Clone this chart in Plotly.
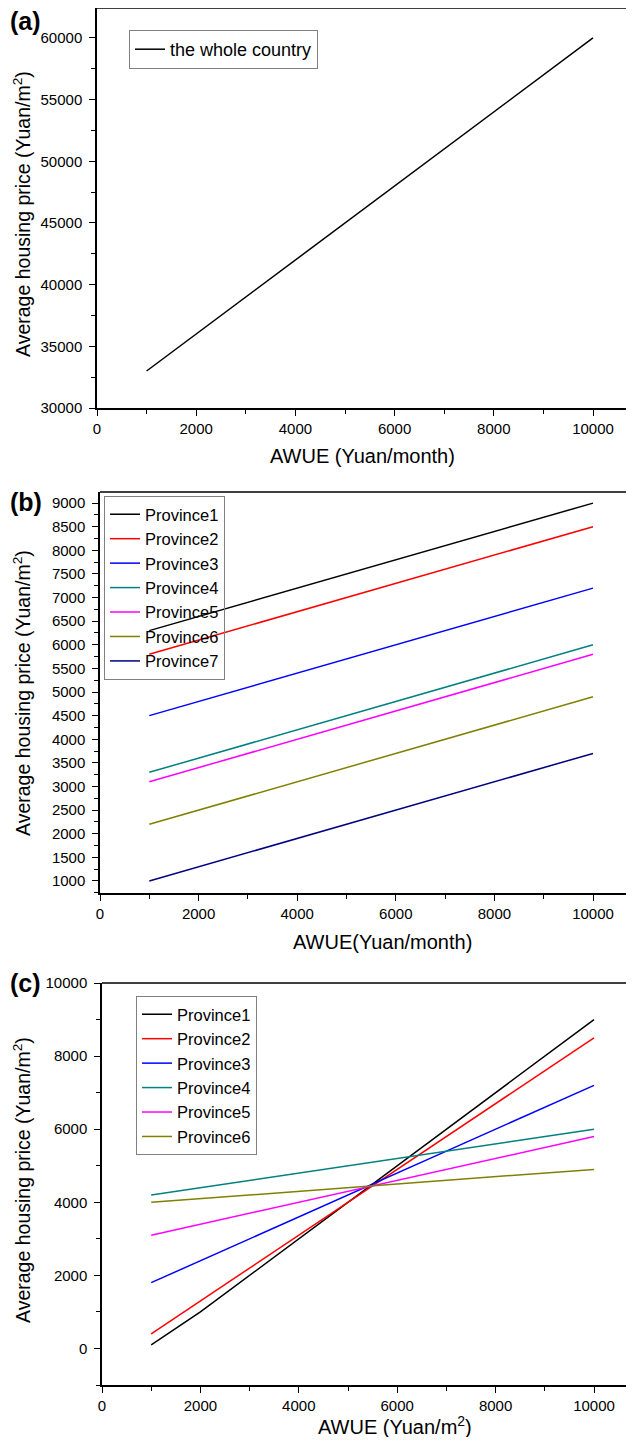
import plotly.graph_objects as go

# ---------------- data ----------------
# (a) whole country
a_x = [1000, 10000]
a_y = [33000, 60000]
a_name = "the whole country"

# (b) provinces (AWUE, Yuan/month)
b_names = ["Province1", "Province2", "Province3", "Province4", "Province5", "Province6", "Province7"]
b_x = [1000, 10000]
b_y = [
    [6300, 9000],
    [5800, 8500],
    [4500, 7200],
    [3300, 6000],
    [3100, 5800],
    [2200, 4900],
    [1000, 3700],
]

# (c) provinces
c_names = ["Province1", "Province2", "Province3", "Province4", "Province5", "Province6"]
c_x = [
    [1000, 2000, 10000],
    [1000, 10000],
    [1000, 10000],
    [1000, 10000],
    [1000, 10000],
    [1000, 10000],
]
c_y = [
    [100, 1000, 9000],
    [400, 8500],
    [1800, 7200],
    [4200, 6000],
    [3100, 5800],
    [4000, 4900],
]

colors = ["#000000", "#ff0000", "#0000ff", "#008080", "#ff00ff", "#808000", "#000080"]

# ---------------- layout helpers ----------------
OFF = 8  # default body margin of the html page
W, H = 634 - OFF, 1445 - 2 * OFF
FONT = "Liberation Sans, Arial, sans-serif"
X_END_PX = 634  # right end of drawn x axis (page px)


def py(px):
    return 1 - (px - OFF) / H


def pxx(px):
    return (px - OFF) / W


fig = go.Figure()

fig.add_trace(go.Scatter(x=a_x, y=a_y, mode="lines", name=a_name,
                         line=dict(color="#000000", width=1.5),
                         xaxis="x", yaxis="y", legend="legend"))
for n, yy, c in zip(b_names, b_y, colors):
    fig.add_trace(go.Scatter(x=b_x, y=yy, mode="lines", name=n,
                             line=dict(color=c, width=1.5),
                             xaxis="x2", yaxis="y2", legend="legend2"))
for n, xx, yy, c in zip(c_names, c_x, c_y, colors):
    fig.add_trace(go.Scatter(x=xx, y=yy, mode="lines", name=n,
                             line=dict(color=c, width=1.5),
                             xaxis="x3", yaxis="y3", legend="legend3"))

common_ax = dict(showline=True, linecolor="black", linewidth=1.5, showgrid=False,
                 zeroline=False, ticks="outside", ticklen=6, tickwidth=1.2,
                 tickcolor="black", tickformat="d", automargin=False,
                 tickfont=dict(family=FONT, size=15, color="black"))

panels = [
    # (x0px, x10000px, top px, bottom px, yrange, dtick, minor)
    (97, 593, 8, 408, [30000, 62430], 5000, 2500),
    (100, 593, 492, 893, [745, 9235], 500, 250),
    (102, 594, 983, 1385, [-1000, 10000], 2000, 1000),
]

shapes = []
for i, (x0, x1, top, bot, yr, dt, mdt) in enumerate(panels, start=1):
    xs = "" if i == 1 else str(i)
    xmax = 10000 * (X_END_PX - x0) / (x1 - x0)
    fig.layout["xaxis" + xs] = dict(
        common_ax, domain=[pxx(x0), pxx(X_END_PX)], range=[0, xmax],
        dtick=2000, tick0=0, mirror=False, anchor="y" + xs,
        minor=dict(ticks="outside", ticklen=4, dtick=1000, tick0=0, tickcolor="black"),
    )
    fig.layout["yaxis" + xs] = dict(
        common_ax, domain=[py(bot), py(top)], range=yr, dtick=dt, tick0=0,
        anchor="x" + xs, ticklabelstandoff=4, mirror=False,
        minor=dict(ticks="outside", ticklen=4, dtick=mdt, tick0=0, tickcolor="black"),
    )
    # top frame line (Origin-style box, right side lies outside the picture)
    shapes.append(dict(type="line", xref="x" + xs + " domain", yref="y" + xs + " domain",
                       x0=0, x1=1, y0=1, y1=1, line=dict(color="black", width=1.5)))

leg_common = dict(bgcolor="rgba(255,255,255,0)", bordercolor="#808080", borderwidth=1,
                  font=dict(family=FONT, size=16.5, color="black"),
                  xanchor="left", yanchor="top", tracegroupgap=0)

fig.update_layout(
    template="none",
    width=W, height=H,
    margin=dict(l=0, r=0, t=0, b=0, autoexpand=False),
    paper_bgcolor="white", plot_bgcolor="white",
    showlegend=True, shapes=shapes,
    legend=dict(leg_common, x=pxx(129), y=py(30), font=dict(family=FONT, size=18, color="black")),
    legend2=dict(leg_common, x=pxx(104), y=py(496)),
    legend3=dict(leg_common, x=pxx(136), y=py(996)),
)

ann = []
title_font = dict(family=FONT, size=19.5, color="black")
ytitle = "Average housing price (Yuan/m<sup>2</sup>)"
for yc in [214, 693, 1180]:
    ann.append(dict(text=ytitle, x=pxx(22), y=py(yc), xref="paper", yref="paper",
                    textangle=-90, showarrow=False, font=title_font,
                    xanchor="center", yanchor="middle"))
for txt, xc, yc in [("AWUE (Yuan/month)", 362, 456),
                    ("AWUE(Yuan/month)", 383, 942),
                    ("AWUE (Yuan/m<sup>2</sup>)", 395, 1425)]:
    ann.append(dict(text=txt, x=pxx(xc), y=py(yc), xref="paper", yref="paper",
                    showarrow=False, font=dict(family=FONT, size=20, color="black"),
                    xanchor="center", yanchor="middle"))
for txt, yc in [("(a)", 21), ("(b)", 502), ("(c)", 983)]:
    ann.append(dict(text="<b>" + txt + "</b>", x=pxx(8), y=py(yc), xref="paper", yref="paper",
                    showarrow=False, font=dict(family=FONT, size=25, color="black"),
                    xanchor="left", yanchor="middle"))
fig.update_layout(annotations=ann)

fig.write_html("out.html")
